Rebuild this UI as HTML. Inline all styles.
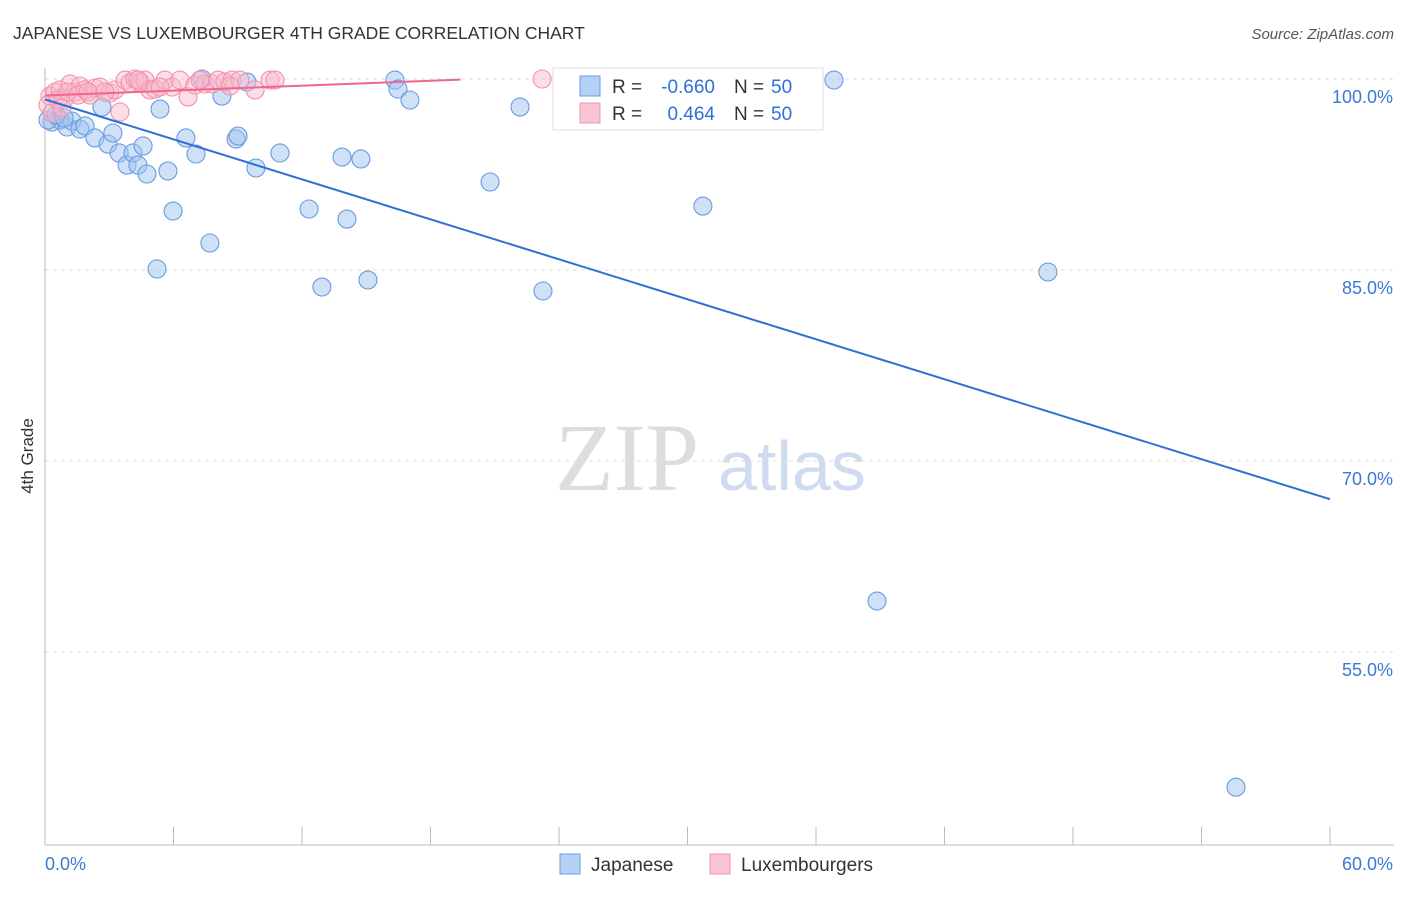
<!DOCTYPE html>
<html><head><meta charset="utf-8"><style>
body{margin:0;background:#fff;font-family:"Liberation Sans",sans-serif;}
</style></head><body>
<svg width="1406" height="892" xmlns="http://www.w3.org/2000/svg" id="c">
<text x="13" y="39" font-size="17.5" fill="#333">JAPANESE VS LUXEMBOURGER 4TH GRADE CORRELATION CHART</text>
<text x="1394" y="39" font-size="15" fill="#555" font-style="italic" text-anchor="end">Source: ZipAtlas.com</text>
<text x="33" y="456" font-size="17" fill="#333" transform="rotate(-90 33 456)" text-anchor="middle">4th Grade</text>
<text x="555" y="490" font-size="96" fill="#ddd" font-family="Liberation Serif,serif">ZIP</text>
<text x="718" y="490" font-size="70" fill="#cfdcf0">atlas</text>
<g id="grid"></g><g id="axes"></g><g id="pts"></g><g id="lines"></g>
<g>
<rect x="553" y="68" width="270" height="62" fill="#fff" stroke="#ddd"/>
<rect x="580" y="76" width="20" height="20" fill="#b5d0f5" stroke="#6a9be0"/>
<rect x="580" y="103" width="20" height="20" fill="#f9c4d4" stroke="#ef95b1"/>
<text x="612" y="93" font-size="19" fill="#333">R =</text>
<text x="715" y="93" font-size="19" fill="#2f6fd6" text-anchor="end">-0.660</text>
<text x="734" y="93" font-size="19" fill="#333">N =</text>
<text x="771" y="93" font-size="19" fill="#2f6fd6">50</text>
<text x="612" y="120" font-size="19" fill="#333">R =</text>
<text x="715" y="120" font-size="19" fill="#2f6fd6" text-anchor="end">0.464</text>
<text x="734" y="120" font-size="19" fill="#333">N =</text>
<text x="771" y="120" font-size="19" fill="#2f6fd6">50</text>
</g>
<g>
<rect x="560" y="854" width="20" height="20" fill="#b5d0f5" stroke="#6a9be0"/>
<text x="591" y="871" font-size="19" fill="#333">Japanese</text>
<rect x="710" y="854" width="20" height="20" fill="#f9c4d4" stroke="#ef95b1"/>
<text x="741" y="871" font-size="19" fill="#333">Luxembourgers</text>
</g>
</svg>
<script>
const yTicks=[100,85,70,55];
const yTickLabels=["100.0%","85.0%","70.0%","55.0%"];
const xTickLabels=["0.0%","60.0%"];
const japX=[.33,.70,1.03,1.26,1.63,1.87,2.33,2.66,2.94,3.17,3.46,3.83,4.11,4.34,4.58,4.76,5.37,5.74,5.98,5.23,6.58,7.05,7.33,7.70,8.26,8.92,9.01,9.43,9.85,10.97,12.33,12.93,13.87,14.10,14.75,15.08,16.34,16.48,17.04,20.78,22.18,23.25,30.72,36.84,38.85,46.83,55.61,.14,.51,.89];
const japY=[96.62,96.78,96.23,96.70,96.07,96.31,95.37,97.80,94.89,95.76,94.19,93.24,94.19,93.24,94.74,92.54,97.64,92.77,89.63,85.08,95.37,94.11,100,87.12,98.66,95.29,95.52,99.76,93.01,94.19,89.79,83.66,93.87,89.00,93.72,84.21,99.92,99.21,98.35,91.91,97.80,83.35,90.02,99.92,59.00,84.84,44.38,96.78,97.17,96.94];
const luxX=[.23,.47,.70,.93,1.17,1.40,1.63,1.87,2.10,2.33,2.57,3.03,3.27,3.50,3.74,3.97,4.20,4.44,4.67,4.90,5.14,5.60,5.93,6.30,6.68,7.00,7.47,7.80,8.08,8.40,8.73,9.10,9.81,10.51,10.74,.14,.33,.61,.79,1.07,1.54,2.01,2.80,4.34,5.37,7.24,8.64,23.21,24.98,26.85];
const luxY=[98.66,98.98,99.14,98.51,99.61,98.98,99.45,99.14,98.74,99.29,99.37,98.90,99.14,97.41,99.92,99.69,100,99.76,99.92,99.14,99.21,99.92,99.37,99.92,98.59,99.53,99.61,99.61,99.92,99.76,99.92,99.92,99.14,99.92,99.92,97.96,97.33,98.35,97.72,98.98,98.74,98.98,98.98,99.92,99.37,99.92,99.45,100,99.92,99.92];
const japTrend=[0,98.4,60,67.0];
const luxTrend=[0,98.7,19.4,99.95];
const X=v=>45+v/60*1285, Y=v=>79+(100-v)*12.733;
const NS="http://www.w3.org/2000/svg";
function mk(t,a,p){const e=document.createElementNS(NS,t);for(const k in a)e.setAttribute(k,a[k]);document.getElementById(p).appendChild(e);return e;}
yTicks.forEach((t,i)=>{
 const g=mk('line',{x1:45,x2:1394,y1:Y(t),y2:Y(t),stroke:'#ddd','stroke-dasharray':'4 4'},'grid');
 
 
 const l=mk('text',{x:1393,y:Y(t)+24,'font-size':18,fill:'#3b78d8','text-anchor':'end'},'grid');
 l.textContent=yTickLabels[i];
 
 
});
mk('line',{x1:45,x2:45,y1:68,y2:845,stroke:'#bbb'},'axes');
mk('line',{x1:45,x2:1394,y1:845,y2:845,stroke:'#bbb'},'axes');
for(let i=0;i<=10;i++){const t=mk('line',{x1:X(i*6),x2:X(i*6),y1:827,y2:845,stroke:'#bbb'},'axes');
 
 }
[[0,'start',45],[1,'end',1393]].forEach(([i,a,x])=>{const l=mk('text',{x:x,y:870,'font-size':18,fill:'#3b78d8','text-anchor':a},'axes');l.textContent=xTickLabels[i];
 
 });
japX.forEach((v,i)=>{const c=mk('circle',{cx:X(v),cy:Y(japY[i]),r:9,fill:'rgba(160,196,240,0.5)',stroke:'#6a9be0','stroke-width':1.1},'pts');
 
 });
luxX.forEach((v,i)=>{const c=mk('circle',{cx:X(v),cy:Y(luxY[i]),r:9,fill:'rgba(248,182,202,0.45)',stroke:'#f192ae','stroke-width':1.1},'pts');
 
 });
const a=mk('line',{x1:X(japTrend[0]),y1:Y(japTrend[1]),x2:X(japTrend[2]),y2:Y(japTrend[3]),stroke:'#2f6fd6','stroke-width':2},'lines');


const b=mk('line',{x1:X(luxTrend[0]),y1:Y(luxTrend[1]),x2:X(luxTrend[2]),y2:Y(luxTrend[3]),stroke:'#f0668e','stroke-width':2},'lines');


</script>
</body></html>
